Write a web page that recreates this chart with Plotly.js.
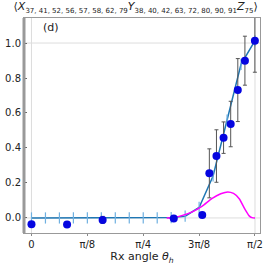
<!DOCTYPE html>
<html><head><meta charset="utf-8">
<script src="https://cdn.plot.ly/plotly-3.0.1.min.js"></script>
<style>html,body{margin:0;padding:0;background:#fff}#plot{width:266px;height:265px}</style>
</head><body><div id="plot"></div>
<script>
// measured points
const expX = [0, 0.25, 0.5, 1.0, 1.2, 1.25, 1.3, 1.35, 1.4, 1.45, 1.5, 1.57];
const expY = [-0.036, -0.038, -0.011, -0.003, 0.017, 0.255, 0.354, 0.459, 0.537, 0.731, 0.899, 1.013];
const expErr = [0, 0, 0.02, 0.01, 0.01, 0.14, 0.15, 0.09, 0.13, 0.18, 0.14, 0.18];
// model curve (markers at k*pi/32)
const modelK = [0,1,2,3,4,5,6,7,8,9,10,11,12,13,14,15,16];
const modelY = [0,0,0,0,0,0,0,0,0,0,0.002,0.01,0.06,0.24,0.56,0.878,1.013];
// magenta curve
const magX = [0.95, 1.0, 1.05, 1.13, 1.2, 1.27, 1.33, 1.38, 1.42, 1.46, 1.5, 1.53, 1.55, 1.571];
const magY = [0, 0.003, 0.012, 0.035, 0.068, 0.112, 0.138, 0.149, 0.14, 0.11, 0.05, 0.012, 0.002, 0.0];
const tickVals = [0, Math.PI/8, Math.PI/4, 3*Math.PI/8, Math.PI/2];
const tickText = ['0', 'π/8', 'π/4', '3π/8', 'π/2'];
const yTicks = [0, 0.2, 0.4, 0.6, 0.8, 1.0];
const xSub = '37, 41, 52, 56, 57, 58, 62, 79';
const ySub = '38, 40, 42, 63, 72, 80, 90, 91';
const zSub = '75';

const modelX = modelK.map(k => k*Math.PI/32);
const sub = s => '<sub><span style="font-size:7px">' + s + '</span></sub>';

const traces = [
  {x: modelX, y: modelY, mode: 'lines+markers', line: {color: '#1f77b4', width: 1.5},
   marker: {symbol: 'line-ns', size: 8, line: {color: '#6fb0e0', width: 1.2}}},
  {x: magX, y: magY, mode: 'lines', line: {color: '#ff00ff', width: 1.5, shape: 'spline', smoothing: 0.6}},
  {x: expX, y: expY, mode: 'markers', marker: {color: '#0505e0', size: 8},
   error_y: {type: 'data', array: expErr, visible: true, color: '#555555', thickness: 1, width: 2}}
];

const layout = {
  width: 266, height: 265,
  margin: {l: 24, r: 6, t: 18, b: 32},
  showlegend: false,
  paper_bgcolor: '#fff', plot_bgcolor: '#fff',
  font: {family: 'DejaVu Sans', size: 10, color: '#222'},
  title: {text: '⟨<i>X</i>' + sub(xSub) + '<i>Y</i>' + sub(ySub) + '<i>Z</i>' + sub(zSub) + '⟩',
          font: {family: 'DejaVu Sans', size: 11, color: '#222'}, x: 0.51, xanchor: 'center', y: 0.99, yanchor: 'top'},
  xaxis: {range: [-0.0526, 1.606], tickvals: tickVals, ticktext: tickText, showgrid: false, zeroline: false,
          ticks: 'outside', ticklen: 2, tickcolor: '#888', showline: true, linecolor: '#999', linewidth: 1, mirror: true,
          title: {text: 'Rx angle <i>θ</i><sub><i>h</i></sub>', font: {size: 11}, standoff: 3}, fixedrange: true},
  yaxis: {range: [-0.086, 1.143], tickvals: yTicks, ticktext: ['0.0','0.2','0.4','0.6','0.8','1.0'], showgrid: false, zeroline: false,
          ticks: 'inside', ticklen: 3, tickcolor: '#666', showline: true, linecolor: '#999', linewidth: 1, mirror: true, fixedrange: true},
  shapes: [
    {type: 'line', xref: 'paper', yref: 'y', x0: 0, x1: 1, y0: 0, y1: 0, line: {color: '#ddd', width: 1}, layer: 'below'},
    {type: 'line', xref: 'paper', yref: 'y', x0: 0, x1: 1, y0: 1, y1: 1, line: {color: '#ddd', width: 1}, layer: 'below'},
    {type: 'line', xref: 'x', yref: 'paper', x0: 0, x1: 0, y0: 0, y1: 1, line: {color: '#ddd', width: 1}, layer: 'below'},
    {type: 'line', xref: 'x', yref: 'paper', x0: Math.PI/2, x1: Math.PI/2, y0: 0, y1: 1, line: {color: '#ddd', width: 1}, layer: 'below'},
    {type: 'line', xref: 'paper', yref: 'paper', x0: 0, x1: 0, y0: 0, y1: 1, line: {color: '#999', width: 3}}
  ],
  annotations: [{text: '(d)', xref: 'paper', yref: 'paper', x: 0.07, y: 0.995, xanchor: 'left', yanchor: 'top', showarrow: false, font: {size: 11, color: '#222'}}]
};
Plotly.newPlot('plot', traces, layout, {displayModeBar: false, staticPlot: true});
</script></body></html>
